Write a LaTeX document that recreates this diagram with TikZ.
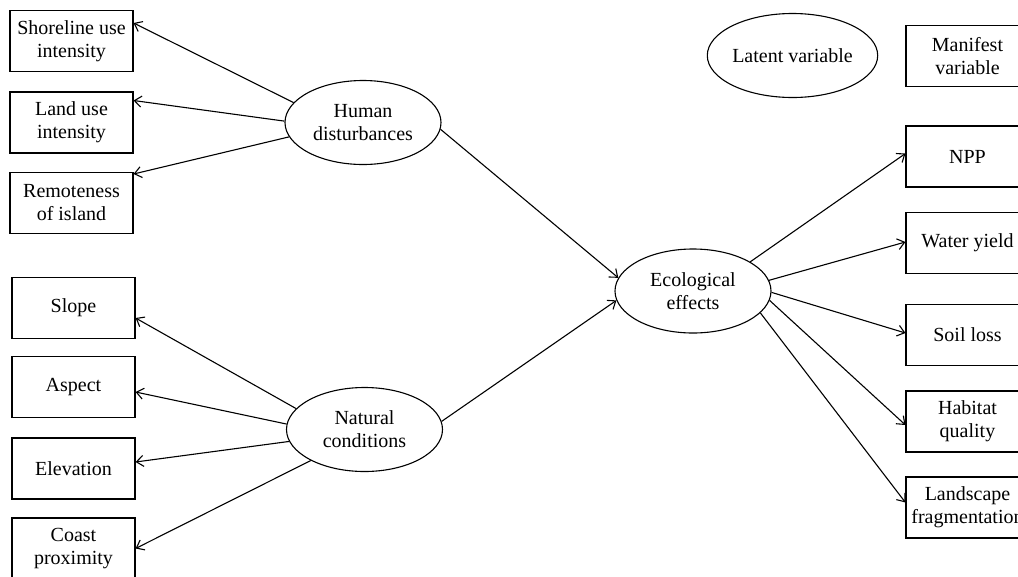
\documentclass[tikz,border=0pt]{standalone}
\usepackage{fontspec}
\setmainfont{Liberation Serif}
\usetikzlibrary{shapes.geometric,arrows.meta,calc}
\begin{document}
\begin{tikzpicture}[x=1pt,y=-1pt,
  txt/.style={font=\fontsize{20}{23}\selectfont},
  box/.style={draw,line width=1.1pt,minimum width=123pt,minimum height=61pt,inner sep=0pt,align=center,txt},
  lat/.style={draw,ellipse,line width=1.1pt,minimum width=156pt,minimum height=84pt,inner sep=0pt,align=center,txt},
  arr/.style={line width=1.1pt,-{Straight Barb[length=7pt,width=11pt]}}]
\useasboundingbox (0,0) rectangle (1018,576);
% left manifest variables
\node[box] (sh) at (71.5,41) {Shoreline use\\intensity};
\node[box] (lu) at (71.5,122.5) {Land use\\intensity};
\node[box] (rm) at (71.5,203) {Remoteness\\of island};
\node[box] (sl) at (73.5,308) {Slope};
\node[box] (as) at (73.5,387) {Aspect};
\node[box] (el) at (73.5,468.5) {Elevation};
\node[box] (co) at (73.5,548.5) {Coast\\proximity};
% latent variables
\node[lat] (hd) at (363,122.5) {Human\\disturbances};
\node[lat] (nc) at (364.5,429.5) {Natural\\conditions};
\node[lat] (ee) at (693,291) {Ecological\\effects};
\node[lat] (lv) at (792.5,55.5) {Latent variable};
% right manifest variables
\node[box] (mv) at (967.5,56) {Manifest\\variable};
\node[box] (np) at (967.5,156.5) {NPP};
\node[box] (wy) at (967.5,243) {Water yield};
\node[box] (so) at (967.5,335) {Soil loss};
\node[box] (hq) at (967.5,421.5) {Habitat\\quality};
\node[box] (lf) at (967.5,507.5) {Landscape\\fragmentation};
% connectors
\draw[arr] (hd.164) -- ($(sh.east)+(0,-18)$);
\draw[arr] (hd.179) -- ($(lu.east)+(0,-22)$);
\draw[arr] (hd.191) -- ($(rm.east)+(0,-29)$);
\draw[arr] (nc.163) -- ($(sl.east)+(0,10)$);
\draw[arr] (nc.176.6) -- ($(as.east)+(0,5)$);
\draw[arr] (nc.189.3) -- ($(el.east)+(0,-6.5)$);
\draw[arr] (nc.210) -- (co.east);
\draw[arr] (hd.355) -- (ee.170);
\draw[arr] (nc.6) -- (ee.187);
\draw[arr] (ee.27) -- ($(np.west)+(0,-3)$);
\draw[arr] (ee.8) -- ($(wy.west)+(0,-1)$);
\draw[arr] (ee.359) -- ($(so.west)+(0,-2)$);
\draw[arr] (ee.353) -- ($(hq.west)+(0,3.5)$);
\draw[arr] (ee.342) -- ($(lf.west)+(0,-5)$);
\end{tikzpicture}
\end{document}
